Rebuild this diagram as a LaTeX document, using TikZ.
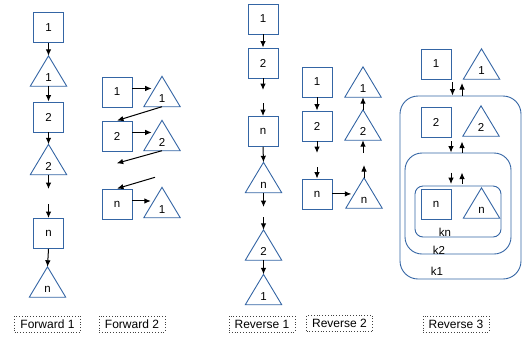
\documentclass[tikz,border=0pt]{standalone}
\usepackage{fontspec}
\setmainfont{Liberation Sans}
\usetikzlibrary{arrows.meta,calc}
\definecolor{shapeblue}{RGB}{52,101,164}
\tikzset{
  shapeline/.style={draw=shapeblue, line width=0.9pt, line join=miter},
  sq/.style={shapeline, minimum width=30pt, minimum height=30pt, inner sep=0pt,
    font=\fontsize{11.5}{13}\selectfont},
  trinode/.style={minimum width=36pt, minimum height=30pt, inner sep=0pt,
    text height=21pt, text depth=0pt, font=\fontsize{11.5}{13}\selectfont},
  conn/.style={draw=black, line width=1pt, -{Latex[length=6.5pt,width=5.5pt]}},
  kbox/.style={shapeline, rounded corners=#1, inner sep=0pt},
  klabel/.style={font=\fontsize{11.5}{13}\selectfont, inner sep=0pt},
  caption/.style={draw=black!75, dotted, line width=0.8pt, minimum width=66pt,
    minimum height=16pt, inner sep=0pt, font=\fontsize{12}{14}\selectfont}
}
% a triangle: an invisible frame node plus its outline
\newcommand{\tripiece}[3]{%
  \node[trinode] (#1) at (#2) {#3};
  \draw[shapeline] (#1.south west) -- (#1.north) -- (#1.south east) -- cycle;}
\begin{document}
\begin{tikzpicture}[x=1pt,y=-1pt]
\useasboundingbox (0,0) rectangle (529,341);

% ---------- Forward 1 ----------
\node[sq] (f1s1) at (48.5,27.5) {1};
\tripiece{f1t1}{48.5,71}{1}
\node[sq] (f1s2) at (48.5,117) {2};
\tripiece{f1t2}{48.5,159.5}{2}
\coordinate (f1e) at (48.5,189);
\coordinate (f1b) at (48.5,204);
\node[sq] (f1sn) at (48.5,233.5) {n};
\tripiece{f1tn}{47.5,282}{n}
\draw[conn] (f1s1.south) -- (f1t1.north);
\draw[conn] (f1t1.south) -- (f1s2.north);
\draw[conn] (f1s2.south) -- (f1t2.north);
\draw[conn] (f1t2.south) -- (f1e);
\draw[conn] (f1b) -- (f1sn.north);
\draw[conn] (f1sn.south) -- (f1tn.north);

% ---------- Forward 2 ----------
\node[sq] (f2s1) at (117,92) {1};
\tripiece{f2t1}{162,91.5}{1}
\node[sq] (f2s2) at (117,136) {2};
\tripiece{f2t2}{162,135.5}{2}
\node[sq] (f2sn) at (117,204) {n};
\tripiece{f2tn}{162,202.5}{1}
\coordinate (f2a1) at ($(f2t1.north)!0.4!(f2t1.south west)$);
\coordinate (f2a2) at ($(f2t2.north)!0.4!(f2t2.south west)$);
\coordinate (f2a3) at ($(f2tn.north)!0.45!(f2tn.south west)$);
\coordinate (f2e) at (116.7,163.3);
\coordinate (f2b) at (155,177.3);
\draw[conn, shorten >=3pt] (f2s1.east |- f2a1) -- (f2a1);
\draw[conn, shorten >=3pt] (f2s2.east |- f2a2) -- (f2a2);
\draw[conn, shorten >=3pt] (f2sn.east |- f2a3) -- (f2a3);
\draw[conn] (f2t1.south) -- (f2s2.north);
\draw[conn] (f2t2.south) -- (f2e);
\draw[conn] (f2b) -- (f2sn.north);

% ---------- Reverse 1 ----------
\node[sq] (r1s1) at (263,19) {1};
\node[sq] (r1s2) at (263,63) {2};
\coordinate (r1e1) at (263,90);
\coordinate (r1b1) at (263,103);
\node[sq] (r1sn) at (263,131.5) {n};
\tripiece{r1tn}{263.5,177.5}{n}
\coordinate (r1e2) at (263.5,207);
\coordinate (r1b2) at (263.5,217);
\tripiece{r1t2}{263.5,245}{2}
\tripiece{r1t1}{263.5,289.5}{1}
\draw[conn] (r1s1.south) -- (r1s2.north);
\draw[conn] (r1s2.south) -- (r1e1);
\draw[conn] (r1b1) -- (r1sn.north);
\draw[conn] (r1sn.south) -- (r1tn.north);
\draw[conn] (r1tn.south) -- (r1e2);
\draw[conn] (r1b2) -- (r1t2.north);
\draw[conn] (r1t2.south) -- (r1t1.north);

% ---------- Reverse 2 ----------
\node[sq] (r2s1) at (317,82) {1};
\tripiece{r2t1}{363,82}{1}
\node[sq] (r2s2) at (317,126) {2};
\tripiece{r2t2}{363,125}{2}
\node[sq] (r2sn) at (317,194) {n};
\tripiece{r2tn}{364,193}{n}
\coordinate (r2e1) at (317,153);
\coordinate (r2b1) at (317,167);
\coordinate (r2e2) at (363,165);
\coordinate (r2b2) at (363,153);
\coordinate (r2a) at ($(r2tn.north)!0.53!(r2tn.south west)$);
\draw[conn] (r2s1.south) -- (r2s2.north);
\draw[conn] (r2s2.south) -- (r2e1);
\draw[conn] (r2b1) -- (r2sn.north);
\draw[conn, shorten >=3pt] (r2sn.east |- r2a) -- (r2a);
\draw[conn] (r2tn.north) -- (r2e2 -| r2tn.north);
\draw[conn] (r2b2) -- (r2t2.south);
\draw[conn] (r2t2.north) -- (r2t1.south);

% ---------- Reverse 3 ----------
\node[kbox=18pt, minimum width=121pt, minimum height=183pt] (k1) at (460.5,187.5) {};
\node[kbox=17pt, minimum width=106pt, minimum height=101pt] (k2) at (458,203.5) {};
\node[kbox=8pt, minimum width=86pt, minimum height=51pt] (kn) at (458,211.5) {};
\node[sq] (r3s1) at (436,64) {1};
\tripiece{r3t1}{481.5,64}{1}
\node[sq] (r3s2) at (436,122) {2};
\tripiece{r3t2}{481,121}{2}
\node[sq] (r3sn) at (436,204) {n};
\tripiece{r3tn}{481.5,203}{n}
\node[klabel] (lkn) at (445,232) {kn};
\node[klabel] (lk2) at (439,250) {k2};
\node[klabel] (lk1) at (437,271) {k1};
\coordinate (d1) at (452.5,82);
\coordinate (u1) at (462,83);
\coordinate (d2) at (451,141);
\coordinate (u2) at (462,141.5);
\coordinate (d3) at (451,172.5);
\coordinate (u3) at (462,172.5);
\draw[conn] (d1) -- (d1 |- k1.north);
\draw[conn] (u1 |- k1.north) -- (u1);
\draw[conn] (d2) -- (d2 |- k2.north);
\draw[conn] (u2 |- k2.north) -- (u2);
\draw[conn] (d3) -- ($(d3 |- kn.north)+(0,-1.5)$);
\draw[conn] ($(u3 |- kn.north)+(0,-1.5)$) -- (u3);

% ---------- captions ----------
\node[caption] (cf1) at (47.5,324) {Forward 1};
\node[caption] (cf2) at (132,324) {Forward 2};
\node[caption] (cr1) at (262,324) {Reverse 1};
\node[caption] (cr2) at (339.5,323.5) {Reverse 2};
\node[caption] (cr3) at (456,324) {Reverse 3};
\end{tikzpicture}
\end{document}
